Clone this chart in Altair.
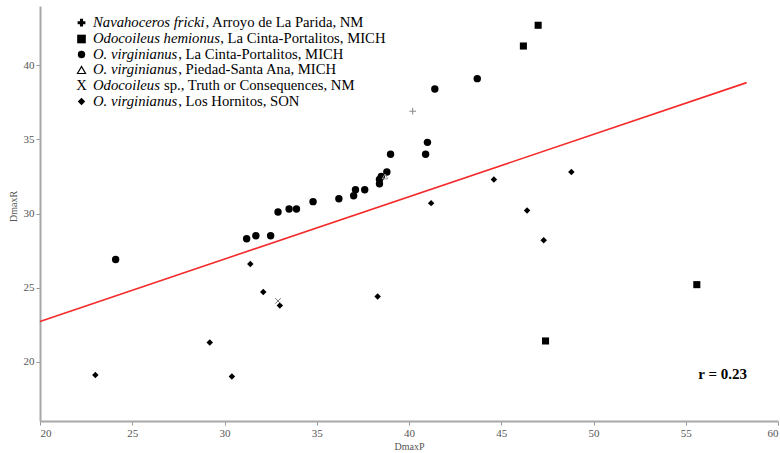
import altair as alt
import pandas as pd

# ---- data ----
circ_x = [24.1, 31.2, 31.7, 32.5, 32.9, 33.5, 33.9, 34.8, 36.2, 37.0, 37.1, 37.6, 38.4, 38.4, 38.5, 38.8, 39.0, 40.9, 41.0, 41.4, 43.7]
circ_y = [26.9, 28.3, 28.5, 28.5, 30.1, 30.3, 30.3, 30.8, 31.0, 31.2, 31.6, 31.6, 32.0, 32.3, 32.5, 32.8, 34.0, 34.0, 34.8, 38.4, 39.1]
sq_x = [46.2, 47.0, 47.4, 55.6]
sq_y = [41.3, 42.7, 21.4, 25.2]
dia_x = [23.0, 29.2, 30.4, 31.4, 32.1, 33.0, 38.3, 41.2, 44.6, 46.4, 47.3, 48.8]
dia_y = [19.1, 21.3, 19.0, 26.6, 24.7, 23.8, 24.4, 30.7, 32.3, 30.2, 28.2, 32.8]
plus_x = [40.2]
plus_y = [36.9]
tri_x = [38.7]
tri_y = [32.5]
xm_x = [32.9]
xm_y = [24.1]
fit_x = [20.0, 58.3]
fit_y = [22.72, 38.83]
r_label = "r = 0.23"
r_pos = [57.0, 19.15]

leg_italic = ["Navahoceros fricki", "Odocoileus hemionus", "O. virginianus",
              "O. virginianus", "Odocoileus", "O. virginianus"]
leg_rest = [", Arroyo de La Parida, NM", ", La Cinta-Portalitos, MICH",
            ", La Cinta-Portalitos, MICH", ", Piedad-Santa Ana, MICH",
            " sp., Truth or Consequences, NM", ", Los Hornitos, SON"]

xticks = [20, 25, 30, 35, 40, 45, 50, 55, 60]
yticks = [20, 25, 30, 35, 40]

# ---- layout (pixels, relative to plot area) ----
PAD_L, PAD_T = 40, 6
LEG_FS = 14.7
leg_y = [v - PAD_T for v in [22.7, 39.0, 54.5, 70.0, 86.0, 101.5]]
leg_marker_x = 81.5 - PAD_L
leg_text_x = 93 - PAD_L

# Times/Liberation Serif Italic advance widths (per 1000 em) to place the
# upright part of each legend line right after the italic part
ITW = {" ": 250, ".": 250, ",": 250, "N": 667, "O": 722, "a": 500, "c": 444,
       "d": 500, "e": 444, "f": 278, "g": 500, "h": 500, "i": 278, "k": 444,
       "l": 278, "m": 722, "n": 500, "o": 500, "r": 389, "s": 389, "u": 500,
       "v": 444}
def it_width(s):
    return sum(ITW.get(c, 500) for c in s) / 1000.0 * LEG_FS
leg_rest_x = []
leg_rest_txt = []
for it, rest in zip(leg_italic, leg_rest):
    x0 = leg_text_x + it_width(it) + 0.3
    if rest.startswith(" "):
        x0 += 0.25 * LEG_FS
    leg_rest_x.append(x0)
    leg_rest_txt.append(rest.lstrip())

xs = alt.Scale(domain=[20, 60], nice=False, zero=False)
ys = alt.Scale(domain=[16, 44], nice=False, zero=False)
X = alt.X("x:Q", scale=xs, title="DmaxP",
          axis=alt.Axis(values=xticks, titlePadding=3))
Y = alt.Y("y:Q", scale=ys, title="DmaxR",
          axis=alt.Axis(values=yticks, titleX=-27, titleY=200, titleAngle=270,
                        titleAlign="center", titleBaseline="middle"))

def df(xv, yv):
    return pd.DataFrame({"x": xv, "y": yv})

fit = alt.Chart(df(fit_x, fit_y)).mark_line(color="#f52a2a", strokeWidth=1.6).encode(x=X, y=Y)

circles = alt.Chart(df(circ_x, circ_y)).mark_point(
    shape="circle", filled=True, color="black", size=55, opacity=1).encode(x=X, y=Y)
squares = alt.Chart(df(sq_x, sq_y)).mark_point(
    shape="square", filled=True, color="black", size=50, opacity=1).encode(x=X, y=Y)
diamonds = alt.Chart(df(dia_x, dia_y)).mark_point(
    shape="diamond", filled=True, color="black", size=42, opacity=1).encode(x=X, y=Y)
pluses = alt.Chart(df(plus_x, plus_y)).mark_point(
    shape="M-1,0L1,0M0,-1L0,1", filled=False, color="#888", size=45,
    strokeWidth=1, opacity=1).encode(x=X, y=Y)
xmarks = alt.Chart(df(xm_x, xm_y)).mark_point(
    shape="M-1,-1L1,1M-1,1L1,-1", filled=False, color="#777", size=30,
    strokeWidth=1, opacity=1).encode(x=X, y=Y)
tris = alt.Chart(df(tri_x, tri_y)).mark_point(
    shape="triangle-up", filled=False, color="#999", size=30,
    strokeWidth=1, opacity=1).encode(x=X, y=Y)

rtext = alt.Chart(pd.DataFrame({"x": [r_pos[0]], "y": [r_pos[1]], "t": [r_label]})).mark_text(
    font="Liberation Serif", fontSize=15, fontWeight="bold", color="black",
    align="center", baseline="middle").encode(x=X, y=Y, text="t:N")

# ---- custom legend ----
leg = pd.DataFrame({"it": leg_italic, "rest": leg_rest_txt, "py": leg_y,
                    "rx": leg_rest_x})
PY = alt.Y("py:Q", scale=None)
leg_it = alt.Chart(leg).mark_text(
    font="Liberation Serif", fontSize=LEG_FS, fontStyle="italic", color="black",
    align="left", baseline="middle", x=leg_text_x).encode(y=PY, text="it:N")
leg_rs = alt.Chart(leg).mark_text(
    font="Liberation Serif", fontSize=LEG_FS, color="black",
    align="left", baseline="middle").encode(x=alt.X("rx:Q", scale=None), y=PY, text="rest:N")

def lm(i, **kw):
    d = pd.DataFrame({"py": [leg_y[i]]})
    return alt.Chart(d).mark_point(opacity=1, x=leg_marker_x, **kw).encode(y=PY)

leg_marks = [
    lm(0, shape="cross", filled=True, color="black", size=60),
    lm(1, shape="square", filled=True, color="black", size=75),
    lm(2, shape="circle", filled=True, color="black", size=55),
    lm(3, shape="triangle-up", filled=False, color="black", size=65, strokeWidth=1.2),
    alt.Chart(pd.DataFrame({"py": [leg_y[4]], "t": ["X"]})).mark_text(
        font="Liberation Serif", fontSize=LEG_FS, color="black", align="center",
        baseline="middle", x=leg_marker_x).encode(y=PY, text="t:N"),
    lm(5, shape="diamond", filled=True, color="black", size=55),
]

chart = alt.layer(
    fit, circles, squares, diamonds, pluses, xmarks, tris, rtext,
    leg_it, leg_rs, *leg_marks
).properties(
    width=738, height=415,
    autosize=alt.AutoSizeParams(type="none"),
    padding={"left": PAD_L, "top": PAD_T, "right": 2, "bottom": 32},
).configure_view(stroke=None).configure_axis(
    grid=False, domainColor="#a8a8a8", domainWidth=2, tickColor="#999",
    tickSize=4, labelFont="Liberation Sans Narrow", labelFontSize=11,
    labelColor="#555", labelPadding=2, titleFont="Liberation Sans Narrow",
    titleFontSize=10, titleFontWeight="normal", titleColor="#555",
)

chart.save("out.html", embed_options={"renderer": "svg", "actions": False})
